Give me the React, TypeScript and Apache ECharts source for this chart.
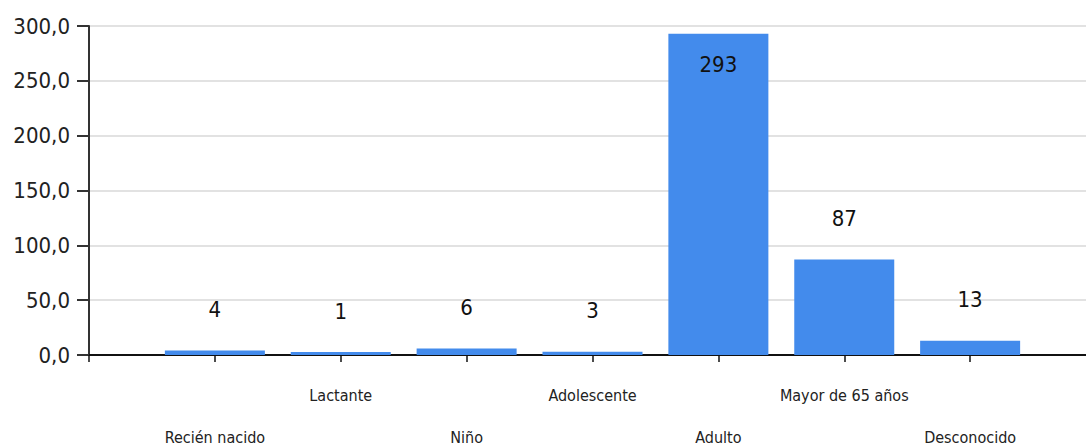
import React, { useEffect, useRef } from "react";
import * as echarts from "echarts";

// Age groups and case counts
const CATEGORIES = [
  "Recién nacido",
  "Lactante",
  "Niño",
  "Adolescente",
  "Adulto",
  "Mayor de 65 años",
  "Desconocido",
];
const VALUES = [4, 1, 6, 3, 293, 87, 13];

const Y_MIN = 0;
const Y_MAX = 300;
const Y_STEP = 50;

const FONT = "'DejaVu Sans Condensed', 'DejaVu Sans', sans-serif";
const BAR_COLOR = "#438bec";

export default function App() {
  const ref = useRef<HTMLDivElement>(null);

  useEffect(() => {
    if (!ref.current) return;
    const chart = echarts.init(ref.current, undefined, { renderer: "svg" });

    // Empty slots on both ends so the bars sit on the tick marks
    const axisCats = ["", ...CATEGORIES, ""];
    const barData = [
      "-",
      ...VALUES.map((v) =>
        v > 250
          ? { value: v, label: { position: "insideTop", distance: 20 } }
          : v
      ),
      "-",
    ];

    chart.setOption({
      animation: false,
      backgroundColor: "#ffffff",
      grid: {
        left: 89,
        top: 26,
        height: 329,
        right: -10,
        containLabel: false,
        outerBoundsMode: "none",
      },
      xAxis: {
        type: "category",
        data: axisCats,
        boundaryGap: false,
        axisLine: { lineStyle: { color: "#111", width: 2 } },
        axisTick: {
          show: true,
          interval: 0,
          length: 7,
          lineStyle: { color: "#111", width: 1.5 },
        },
        axisLabel: {
          interval: 0,
          margin: 30,
          fontFamily: FONT,
          fontSize: 16,
          color: "#222",
          lineHeight: 21,
          formatter: (v: string, i: number) =>
            v === "" ? "" : i % 2 === 1 ? "\n\n" + v : v,
        },
        splitLine: { show: false },
      },
      yAxis: {
        type: "value",
        min: Y_MIN,
        max: Y_MAX,
        interval: Y_STEP,
        axisLine: { show: true, lineStyle: { color: "#333", width: 2 } },
        axisTick: {
          show: true,
          length: 12,
          lineStyle: { color: "#333", width: 2 },
        },
        axisLabel: {
          margin: 19,
          fontFamily: FONT,
          fontSize: 22,
          color: "#222",
          formatter: (v: number) => v.toFixed(1).replace(".", ","),
        },
        splitLine: { lineStyle: { color: "#e2e2e2", width: 2 } },
      },
      series: [
        {
          type: "bar",
          data: barData,
          barWidth: 100,
          barMinHeight: 3,
          itemStyle: { color: BAR_COLOR },
          label: {
            show: true,
            position: "top",
            distance: 30,
            fontFamily: FONT,
            fontSize: 22,
            color: "#111",
          },
        },
      ],
    });

    return () => chart.dispose();
  }, []);

  return (
    <div
      ref={ref}
      style={{ position: "fixed", left: 0, top: 0, width: 1086, height: 448 }}
    />
  );
}
